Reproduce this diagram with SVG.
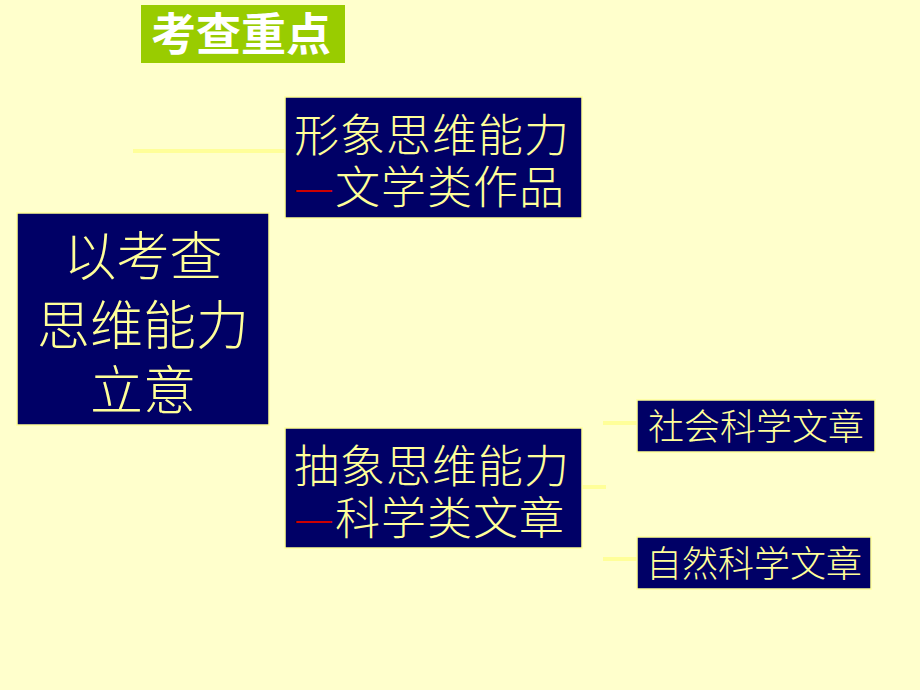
<svg xmlns="http://www.w3.org/2000/svg" width="920" height="690" viewBox="0 0 920 690">
<style>
.box{fill:#000066;stroke:#FFFF99;stroke-width:1.5}
.t{fill:#FFFF99;font-family:"Noto Sans CJK SC","Noto Sans CJK JP",sans-serif;font-weight:300}
.red{fill:#CC0000}
.conn{stroke:#FFFF99;stroke-width:4;fill:none}
</style>
<rect x="0" y="0" width="920" height="690" fill="#FFFFCC"/>
<g id="title">
<rect x="141" y="5" width="204" height="58" fill="#99CC00"/>
<text x="241" y="51" text-anchor="middle" font-size="45" font-weight="bold" fill="#FFFFFF" font-family="Noto Sans CJK SC,sans-serif">考查重点</text>
</g>
<g id="connectors">
<line class="conn" x1="133" y1="151" x2="286" y2="151"/>
<line class="conn" x1="582" y1="487" x2="606" y2="487"/>
<line class="conn" x1="603" y1="423" x2="637" y2="423"/>
<line class="conn" x1="603" y1="559" x2="637" y2="559"/>
</g>
<g id="main">
<rect class="box" x="17" y="213" width="252" height="212"/>
<text class="t" x="143" y="276" text-anchor="middle" font-size="53">以考查</text>
<text class="t" x="143" y="345" text-anchor="middle" font-size="53">思维能力</text>
<text class="t" x="143" y="410" text-anchor="middle" font-size="53">立意</text>
</g>
<g id="xingxiang">
<rect class="box" x="285" y="97" width="297" height="121"/>
<text class="t" x="294" y="152" font-size="45" letter-spacing="1">形象思维能力</text>
<text class="t" x="294" y="204" font-size="45" letter-spacing="1"><tspan class="red">—</tspan>文学类作品</text>
</g>
<g id="chouxiang">
<rect class="box" x="285" y="428" width="297" height="120"/>
<text class="t" x="294" y="483" font-size="45" letter-spacing="1">抽象思维能力</text>
<text class="t" x="294" y="535" font-size="45" letter-spacing="1"><tspan class="red">—</tspan>科学类文章</text>
</g>
<g id="shehui">
<rect class="box" x="637" y="400" width="238" height="52"/>
<text class="t" x="756" y="440" text-anchor="middle" font-size="36">社会科学文章</text>
</g>
<g id="ziran">
<rect class="box" x="637" y="537" width="234" height="52"/>
<text class="t" x="754" y="577" text-anchor="middle" font-size="36">自然科学文章</text>
</g>
</svg>
